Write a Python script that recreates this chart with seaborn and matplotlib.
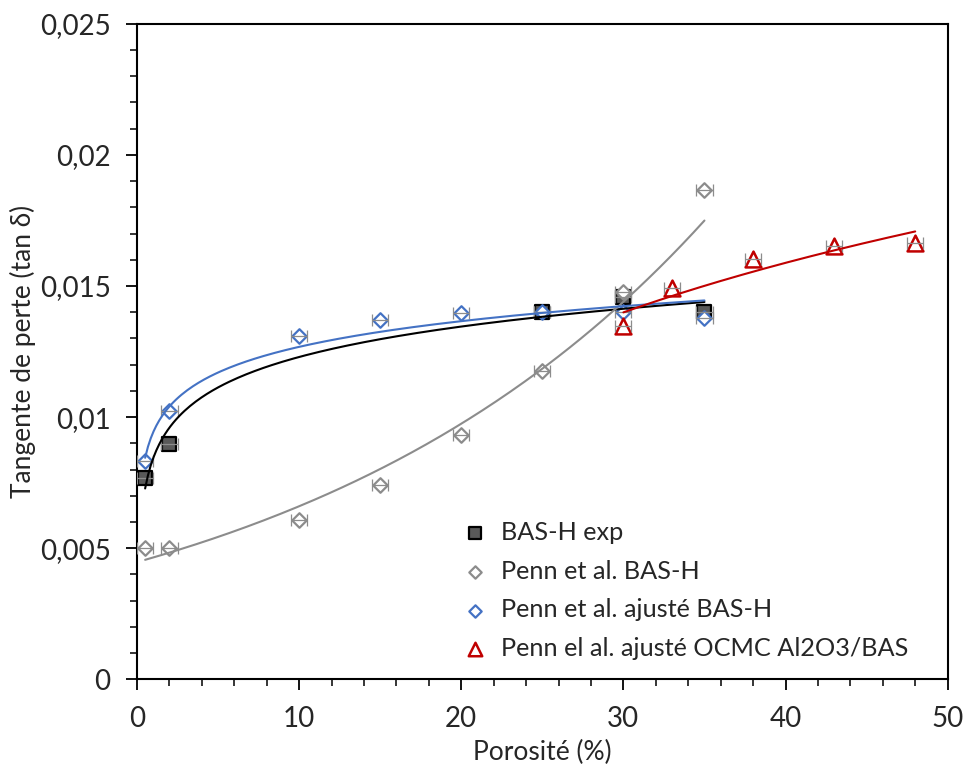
import numpy as np
import pandas as pd
import matplotlib
matplotlib.use("Agg")
import matplotlib.pyplot as plt
from matplotlib.ticker import FixedLocator, MultipleLocator, FixedFormatter
import seaborn as sns

# Data (porosity in %, loss tangent)
bas_exp_x = [0.5, 2, 25, 30, 35]
bas_exp_y = [0.00767, 0.00897, 0.01400, 0.01458, 0.01400]

penn_x = [0.5, 2, 10, 15, 20, 25, 30, 35]
penn_y = [0.00500, 0.00500, 0.00607, 0.00740, 0.00931, 0.01176, 0.01477, 0.01866]

penn_adj_x = [0.5, 2, 10, 15, 20, 25, 30, 35]
penn_adj_y = [0.00832, 0.01023, 0.01309, 0.01370, 0.01397, 0.01400, 0.01400, 0.01378]

ocmc_x = [30, 33, 38, 43, 48]
ocmc_y = [0.01347, 0.01492, 0.01603, 0.01653, 0.01664]

x_err = 0.5

y_ticks = [0, 0.005, 0.01, 0.015, 0.02, 0.025]
y_tick_labels = ["0", "0,005", "0,01", "0,015", "0,02", "0,025"]
x_ticks = [0, 10, 20, 30, 40, 50]

labels = ["BAS-H exp", "Penn et al. BAS-H", "Penn et al. ajusté BAS-H",
          "Penn el al. ajusté OCMC Al2O3/BAS"]

GRAY = "#8c8c8c"
BLUE = "#4472c4"
RED = "#c00000"
DARK = "#595959"


def log_fit(x, y):
    # Excel style logarithmic trendline y = a ln(x) + b
    a, b = np.polyfit(np.log(x), y, 1)
    xs = np.linspace(min(x), max(x), 200)
    return xs, a * np.log(xs) + b


def exp_fit(x, y):
    # Excel style exponential trendline y = A exp(kx)
    k, lnA = np.polyfit(x, np.log(y), 1)
    xs = np.linspace(min(x), max(x), 200)
    return xs, np.exp(lnA) * np.exp(k * xs)


def main():
    sns.set_style("ticks")
    plt.rcParams["font.family"] = ["Lato", "DejaVu Sans"]

    fig = plt.figure(figsize=(9.65, 7.65), dpi=100)
    ax = fig.add_axes([0.142, 0.112, 0.840, 0.857])

    # markers
    h1 = ax.scatter(bas_exp_x, bas_exp_y, marker="s", s=110, facecolor=DARK,
                    edgecolor="black", linewidth=1.6, zorder=3, label=labels[0])
    h2 = ax.scatter(penn_x, penn_y, marker="D", s=55, facecolor="white",
                    edgecolor=GRAY, linewidth=1.6, zorder=4, label=labels[1])
    h3 = ax.scatter(penn_adj_x, penn_adj_y, marker="D", s=55, facecolor="white",
                    edgecolor=BLUE, linewidth=1.6, zorder=5, label=labels[2])
    h4 = ax.scatter(ocmc_x, ocmc_y, marker="^", s=130, facecolor="white",
                    edgecolor=RED, linewidth=1.8, zorder=6, label=labels[3])

    # horizontal error bars
    for xs, ys in [(bas_exp_x, bas_exp_y), (penn_x, penn_y),
                   (penn_adj_x, penn_adj_y), (ocmc_x, ocmc_y)]:
        ax.errorbar(xs, ys, xerr=x_err, fmt="none", ecolor=GRAY,
                    elinewidth=0.9, capsize=4, capthick=0.9, zorder=7)

    # trendlines
    trends = [
        (log_fit(bas_exp_x, bas_exp_y), "black"),
        (exp_fit(penn_x, penn_y), GRAY),
        (log_fit(penn_adj_x, penn_adj_y), BLUE),
        (log_fit(ocmc_x, ocmc_y), RED),
    ]
    for (tx, ty), c in trends:
        df = pd.DataFrame({"x": tx, "y": ty})
        sns.lineplot(data=df, x="x", y="y", color=c, linewidth=1.5,
                     sort=False, estimator=None, legend=False, ax=ax, zorder=8)

    ax.set_xlim(0, 50)
    ax.set_ylim(0, 0.025)
    ax.xaxis.set_major_locator(FixedLocator(x_ticks))
    ax.xaxis.set_minor_locator(MultipleLocator(2))
    ax.yaxis.set_major_locator(FixedLocator(y_ticks))
    ax.yaxis.set_major_formatter(FixedFormatter(y_tick_labels))
    ax.yaxis.set_minor_locator(MultipleLocator(0.001))

    ax.tick_params(which="major", length=8, width=1.3, color="black",
                   labelsize=20, pad=11)
    ax.tick_params(which="minor", length=5, width=1.1, color="black")
    for sp in ax.spines.values():
        sp.set_linewidth(1.5)
        sp.set_color("black")

    ax.set_xlabel("Porosité (%)", fontsize=19, labelpad=6)
    ax.set_ylabel("Tangente de perte (tan δ)", fontsize=19, labelpad=3)

    ax.legend(handles=[h1, h2, h3, h4], loc="lower right", frameon=False,
              fontsize=18.2, handletextpad=0.05, labelspacing=0.62,
              markerscale=0.85, bbox_to_anchor=(0.98, -0.005))

    fig.savefig("out.png", dpi=100)


if __name__ == "__main__":
    main()
